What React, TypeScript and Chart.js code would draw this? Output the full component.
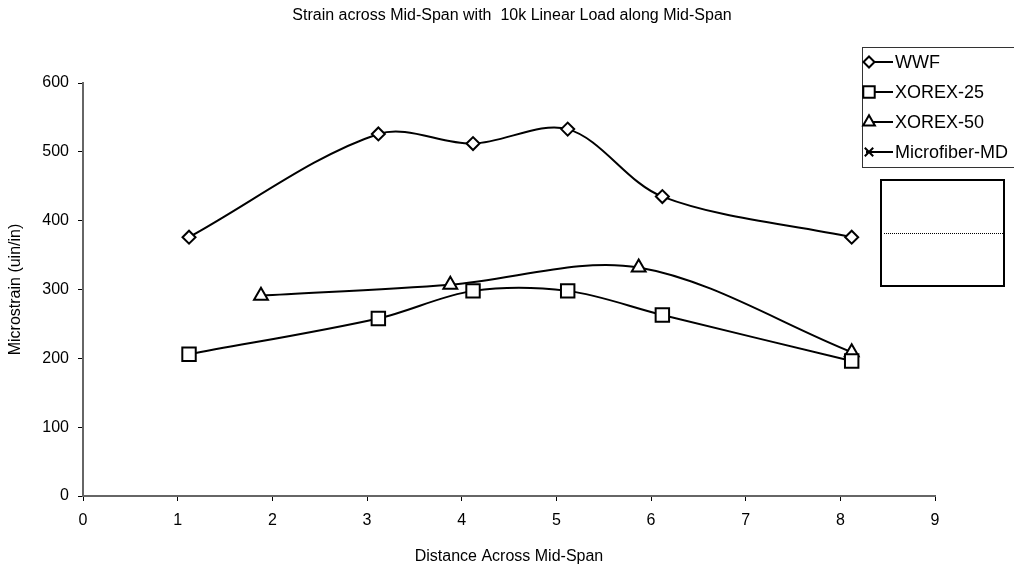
import React, { useEffect, useRef } from "react";
import { Chart, registerables } from "chart.js";

Chart.register(...registerables);

const chartTitle = "Strain across Mid-Span with  10k Linear Load along Mid-Span";
const xAxisTitle = "Distance Across Mid-Span";
const yAxisTitle = "Microstrain (uin/in)";

const seriesNames = ["WWF", "XOREX-25", "XOREX-50", "Microfiber-MD"];
const wwfX = [1.12, 3.12, 4.12, 5.12, 6.12, 8.12];
const wwfY = [376, 526, 512, 533, 435, 376];
const xorex25X = [1.12, 3.12, 4.12, 5.12, 6.12, 8.12];
const xorex25Y = [206, 258, 298, 298, 263, 196];
const xorex50X = [1.88, 3.88, 5.87, 8.12];
const xorex50Y = [291, 307, 332, 209];
const microX: number[] = [];
const microY: number[] = [];

const pointStyles = ["rectRot", "rect", "triangle", "crossRot"];
const pointRadii = [6.5, 9.5, 8, 7];

const FONT = "'Liberation Sans', Arial, sans-serif";

function pts(xs: number[], ys: number[]) {
  return xs.map((x, i) => ({ x, y: ys[i] }));
}

function drawMarker(ctx: CanvasRenderingContext2D, style: string, x: number, y: number, r: number) {
  ctx.beginPath();
  if (style === "rectRot") {
    ctx.moveTo(x - r, y);
    ctx.lineTo(x, y - r);
    ctx.lineTo(x + r, y);
    ctx.lineTo(x, y + r);
    ctx.closePath();
    ctx.fill();
    ctx.stroke();
  } else if (style === "rect") {
    const s = Math.SQRT1_2 * r;
    ctx.rect(x - s, y - s, 2 * s, 2 * s);
    ctx.fill();
    ctx.stroke();
  } else if (style === "triangle") {
    const a = (Math.PI * 2) / 3;
    for (let k = 0; k < 3; k++) {
      const ang = -Math.PI / 2 + k * a;
      const px = x + Math.cos(ang) * r;
      const py = y + Math.sin(ang) * r;
      if (k === 0) ctx.moveTo(px, py);
      else ctx.lineTo(px, py);
    }
    ctx.closePath();
    ctx.fill();
    ctx.stroke();
  } else {
    const s = Math.SQRT1_2 * r;
    ctx.moveTo(x - s, y - s);
    ctx.lineTo(x + s, y + s);
    ctx.moveTo(x + s, y - s);
    ctx.lineTo(x - s, y + s);
    ctx.stroke();
  }
}

const decorPlugin = {
  id: "decor",
  afterDraw(chart: any) {
    const ctx: CanvasRenderingContext2D = chart.ctx;
    ctx.save();
    // Title
    ctx.fillStyle = "#000";
    ctx.font = `16px ${FONT}`;
    ctx.textAlign = "center";
    ctx.textBaseline = "middle";
    ctx.fillText(chartTitle, 512, 16);

    // Legend box
    const lx = 862, ly = 47, lw = 160, lh = 120;
    ctx.fillStyle = "#fff";
    ctx.fillRect(lx, ly, lw, lh);
    ctx.strokeStyle = "#333";
    ctx.lineWidth = 1;
    ctx.strokeRect(lx + 0.5, ly + 0.5, lw, lh);
    seriesNames.forEach((name, i) => {
      const cy = ly + 15 + i * 30;
      ctx.strokeStyle = "#000";
      ctx.lineWidth = 2;
      ctx.beginPath();
      ctx.moveTo(lx + 4, cy);
      ctx.lineTo(lx + 31, cy);
      ctx.stroke();
      ctx.fillStyle = "#fff";
      drawMarker(ctx, pointStyles[i], lx + 7, cy, pointRadii[i] * 0.85);
      ctx.fillStyle = "#000";
      ctx.font = `18px ${FONT}`;
      ctx.textAlign = "left";
      ctx.textBaseline = "middle";
      ctx.fillText(name, lx + 33, cy + 1);
    });

    // Secondary empty box with dotted line
    ctx.strokeStyle = "#000";
    ctx.lineWidth = 2;
    ctx.strokeRect(881, 180, 123, 106);
    ctx.lineWidth = 1;
    ctx.setLineDash([1, 1]);
    ctx.beginPath();
    ctx.moveTo(884, 233.5);
    ctx.lineTo(1003, 233.5);
    ctx.stroke();
    ctx.setLineDash([]);
    ctx.restore();
  },
};

export default function App() {
  const ref = useRef<HTMLCanvasElement>(null);
  useEffect(() => {
    if (!ref.current) return;
    const mk = (i: number, xs: number[], ys: number[]) => ({
      label: seriesNames[i],
      data: pts(xs, ys),
      borderColor: "#000",
      backgroundColor: "#fff",
      borderWidth: 2,
      pointStyle: pointStyles[i],
      pointRadius: pointRadii[i],
      pointBorderWidth: 2,
      pointBorderColor: "#000",
      pointBackgroundColor: "#fff",
      tension: 0.33,
      showLine: true,
      fill: false,
    });
    const chart = new Chart(ref.current, {
      type: "scatter",
      data: {
        datasets: [
          mk(0, wwfX, wwfY),
          mk(1, xorex25X, xorex25Y),
          mk(2, xorex50X, xorex50Y),
          mk(3, microX, microY),
        ],
      },
      options: {
        responsive: false,
        animation: false,
        layout: { padding: { top: 83, right: 79, left: 0, bottom: 0 } },
        plugins: {
          legend: { display: false },
          title: { display: false },
          tooltip: { enabled: false },
        },
        scales: {
          x: {
            type: "linear",
            min: 0,
            max: 9,
            afterFit: (s: any) => {
              s.height = 74;
            },
            ticks: {
              stepSize: 1,
              color: "#000",
              font: { family: FONT, size: 16 },
              padding: 10,
              maxRotation: 0,
            },
            grid: {
              drawOnChartArea: false,
              drawTicks: true,
              tickLength: 5,
              color: "#000",
            },
            border: { display: true, color: "#666", width: 2 },
            title: {
              display: true,
              text: xAxisTitle,
              color: "#000",
              font: { family: FONT, size: 16 },
              padding: { top: 0, bottom: 4 },
            },
          },
          y: {
            type: "linear",
            min: 0,
            max: 600,
            afterFit: (s: any) => {
              s.width = 83;
            },
            ticks: {
              stepSize: 100,
              color: "#000",
              font: { family: FONT, size: 16 },
              padding: 9,
            },
            grid: {
              drawOnChartArea: false,
              drawTicks: true,
              tickLength: 5,
              color: "#000",
            },
            border: { display: true, color: "#666", width: 2 },
            title: {
              display: true,
              text: yAxisTitle,
              color: "#000",
              font: { family: FONT, size: 16 },
              padding: { top: 6, bottom: 0 },
            },
          },
        },
      },
      plugins: [decorPlugin],
    } as any);
    return () => chart.destroy();
  }, []);
  return (
    <div style={{ position: "absolute", left: 0, top: 0, width: 1014, height: 570, background: "#fff" }}>
      <canvas ref={ref} width={1014} height={570} style={{ display: "block" }} />
    </div>
  );
}
